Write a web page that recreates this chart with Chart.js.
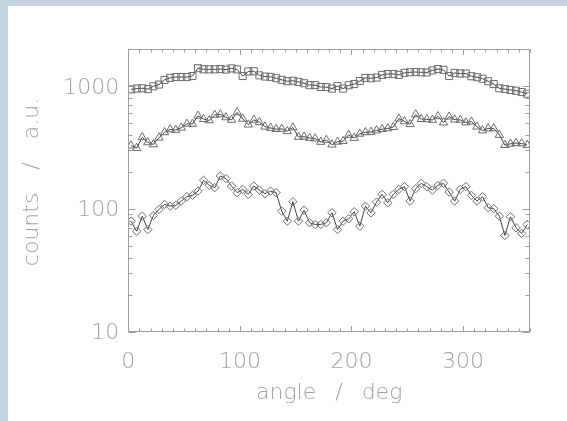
<!DOCTYPE html>
<html><head><meta charset="utf-8">
<script src="https://cdn.jsdelivr.net/npm/chart.js@4/dist/chart.umd.min.js"></script>
<style>html,body{margin:0;padding:0;background:#fff;overflow:hidden}#wrap{width:567px;height:421px;position:relative}</style>
</head><body><div id="wrap"><canvas id="c" width="567" height="421"></canvas></div>
<script>
const angles = [2.5,7.5,12.5,17.5,22.5,27.5,32.5,37.5,42.5,47.5,52.5,57.5,62.5,67.5,72.5,77.5,82.5,87.5,92.5,97.5,
  102.5,107.5,112.5,117.5,122.5,127.5,132.5,137.5,142.5,147.5,152.5,157.5,162.5,167.5,172.5,177.5,182.5,187.5,192.5,197.5,
  202.5,207.5,212.5,217.5,222.5,227.5,232.5,237.5,242.5,247.5,252.5,257.5,262.5,267.5,272.5,277.5,282.5,287.5,292.5,297.5,
  302.5,307.5,312.5,317.5,322.5,327.5,332.5,337.5,342.5,347.5,352.5,357.5];
const squares = [938,952,958,943,994,1027,1121,1164,1182,1182,1182,1205,1395,1366,1366,1366,1374,1359,1390,1364,
  1205,1311,1319,1220,1193,1186,1156,1121,1092,1103,1080,1052,1015,1015,981,978,952,998,952,1013,
  1036,1097,1164,1156,1171,1230,1251,1251,1230,1279,1292,1299,1292,1287,1339,1374,1352,1205,1277,1263,
  1263,1200,1178,1145,1092,1036,957,943,928,914,892,864];
const triangles = [327,312,382,347,334,379,419,442,438,457,491,491,571,537,524,581,586,555,529,609,
  540,484,529,507,466,455,445,447,428,459,384,386,377,373,350,363,333,351,355,399,
  377,408,419,422,434,445,451,462,542,515,488,586,537,535,529,566,504,562,532,529,
  504,512,466,434,451,451,399,330,338,343,340,330];
const diamonds = [79.2,65.6,87.0,67.7,88.2,98.7,108.4,105.0,106.4,115.4,125.3,128.5,139.2,170.3,155,148.5,184.7,175.8,153,135.1,
  143.8,130.9,153,141.9,132.7,139.2,135.1,95.6,79.2,114.1,79.2,97.4,76.9,74.4,74.4,76.9,92.7,67.7,79.2,82.8,
  94.5,72.1,105,92.7,113.2,130.9,111.9,130.9,143.8,151.3,115.4,145.6,161,151.3,141.9,155,161,136.7,115.4,143.8,
  151.3,128.5,115.4,125.3,101.9,100,87.0,60.5,86,69.9,62.9,74.4];
const xTickLabels = [0,100,200,300];
const yTickLabels = [10,100,1000];
const xTitle = 'angle / deg';
const yTitle = 'counts / a.u.';

const TXT = '#a3a3a3';
const FONT_FAMILY = '"DejaVu Sans", sans-serif';

const decor = {
  id: 'decor',
  beforeDraw(chart) {
    const c = chart.ctx;
    c.save();
    c.fillStyle = '#c6d4e1';
    c.fillRect(0, 0, chart.width, chart.height);
    c.fillStyle = '#ffffff';
    c.fillRect(8, 6, chart.width - 8, chart.height - 6);
    c.restore();
  },
  afterDraw(chart) {
    const c = chart.ctx;
    const a = chart.chartArea;
    const xs = chart.scales.x, ys = chart.scales.y;
    const L = Math.round(a.left) + 0.5, R = Math.round(a.right) - 0.5;
    const T = Math.round(a.top) + 0.5, B = Math.round(a.bottom) - 0.5;
    c.save();
    c.strokeStyle = '#9f9f9f';
    c.lineWidth = 1;
    c.strokeRect(L, T, R - L, B - T);
    c.beginPath();
    for (let v = 0; v <= 360; v += 10) {
      const p = Math.round(xs.getPixelForValue(v)) + 0.5;
      const len = (v % 100 === 0) ? 5.5 : 3;
      c.moveTo(p, B); c.lineTo(p, B - len);
      c.moveTo(p, T); c.lineTo(p, T + len);
    }
    for (let d = 10; d < 10000; d *= 10) {
      for (let m = 1; m <= 9; m++) {
        const v = m * d;
        if (v < 10 || v > 2000) continue;
        const p = Math.round(ys.getPixelForValue(v)) + 0.5;
        const len = (m === 1) ? 7 : 4;
        c.moveTo(L, p); c.lineTo(L + len, p);
        c.moveTo(R, p); c.lineTo(R - len, p);
      }
    }
    c.stroke();
    c.fillStyle = TXT;
    c.font = '200 22px ' + FONT_FAMILY;
    c.textAlign = 'center';
    c.textBaseline = 'alphabetic';
    try { c.wordSpacing = '12px'; } catch (e) {}
    c.fillText(xTitle, (a.left + a.right) / 2, 399);
    try { c.wordSpacing = '16px'; } catch (e) {}
    c.translate(38, 182);
    c.rotate(-Math.PI / 2);
    c.fillText(yTitle, 0, 0);
    c.restore();
  }
};

function pts(vals) { return angles.map((a, i) => ({ x: a, y: vals[i] })); }
const common = {
  borderColor: '#444444', borderWidth: 1, pointBorderColor: '#6e6e6e',
  pointBackgroundColor: 'rgba(255,255,255,0)', pointBorderWidth: 1, tension: 0, fill: false
};

new Chart(document.getElementById('c'), {
  type: 'line',
  data: {
    datasets: [
      Object.assign({ data: pts(squares), pointStyle: 'rect', pointRadius: 5 }, common),
      Object.assign({ data: pts(triangles), pointStyle: 'triangle', pointRadius: 4.8 }, common),
      Object.assign({ data: pts(diamonds), pointStyle: 'rectRot', pointRadius: 4.2 }, common)
    ]
  },
  options: {
    responsive: false, animation: false, devicePixelRatio: 1,
    layout: { padding: { top: 49, right: 37, left: 0, bottom: 0 } },
    plugins: { legend: { display: false }, tooltip: { enabled: false } },
    scales: {
      x: {
        type: 'linear', min: 0, max: 360,
        grid: { display: false, drawTicks: false }, border: { display: false },
        ticks: { padding: 18, color: TXT, font: { family: FONT_FAMILY, size: 22, weight: '200' }, maxRotation: 0, autoSkip: false,
          callback: v => String(v) },
        afterBuildTicks: s => { s.ticks = xTickLabels.map(v => ({ value: v })); },
        afterFit: s => { s.height = 89.5; }
      },
      y: {
        type: 'logarithmic', min: 10, max: 2000,
        grid: { display: false, drawTicks: false }, border: { display: false },
        ticks: { padding: 9, labelOffset: 2, color: TXT, font: { family: FONT_FAMILY, size: 22, weight: '200' }, autoSkip: false,
          callback: v => String(v) },
        afterBuildTicks: s => { s.ticks = yTickLabels.map(v => ({ value: v })); },
        afterFit: s => { s.width = 128.3; }
      }
    }
  },
  plugins: [decor]
});
</script>
</body></html>
